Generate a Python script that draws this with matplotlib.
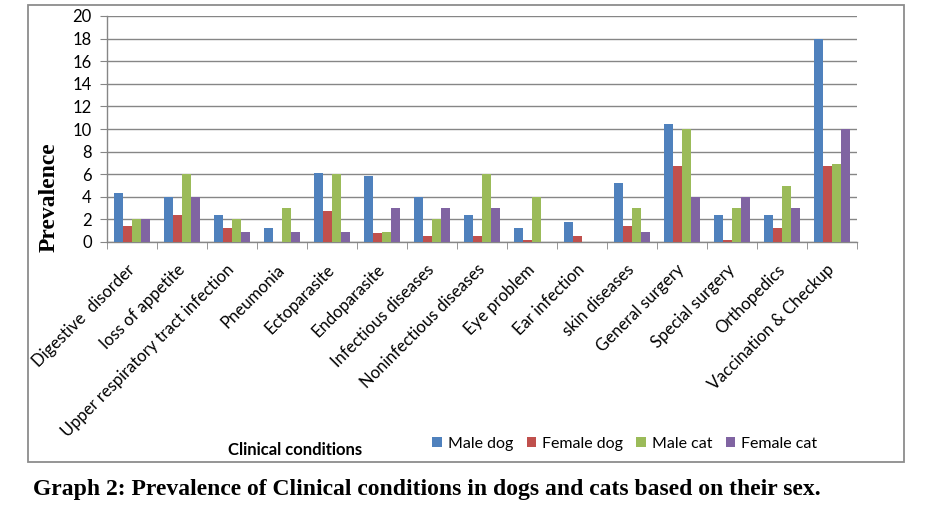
import matplotlib
matplotlib.use("Agg")
import matplotlib.pyplot as plt
import numpy as np
from matplotlib.patches import Rectangle

categories = ["Digestive  disorder", "loss of appetite", "Upper respiratory tract infection",
              "Pneumonia", "Ectoparasite", "Endoparasite", "Infectious diseases",
              "Noninfectious diseases", "Eye problem", "Ear infection", "skin diseases",
              "General surgery", "Special surgery", "Orthopedics", "Vaccination & Checkup"]
male_dog   = [4.3, 4.0, 2.4, 1.2, 6.15, 5.8, 4.0, 2.4, 1.2, 1.8, 5.2, 10.45, 2.4, 2.4, 17.95]
female_dog = [1.45, 2.4, 1.2, 0.0, 2.7, 0.8, 0.55, 0.55, 0.2, 0.55, 1.45, 6.75, 0.2, 1.2, 6.75]
male_cat   = [2.0, 6.0, 2.0, 3.0, 6.0, 0.9, 2.0, 6.0, 4.0, 0.0, 3.0, 10.0, 3.0, 5.0, 6.9]
female_cat = [2.0, 4.0, 0.9, 0.9, 0.9, 3.0, 3.0, 3.0, 0.0, 0.0, 0.9, 4.0, 4.0, 3.0, 10.0]
series_names = ["Male dog", "Female dog", "Male cat", "Female cat"]
colors = ["#4F81BD", "#C0504D", "#9BBB59", "#8064A2"]
yticks = [0, 2, 4, 6, 8, 10, 12, 14, 16, 18, 20]

sans = ["Lato", "DejaVu Sans"]
serif = ["Liberation Serif", "DejaVu Serif"]

fig = plt.figure(figsize=(9.4, 5.17), dpi=100)
fig.patch.set_facecolor("white")

# outer chart border
fig.patches.append(Rectangle((28/940, 1-462/517), (904-28)/940, (462-5)/517,
                             transform=fig.transFigure, fill=False,
                             edgecolor="#8c8c8c", linewidth=1.3))

ax = fig.add_axes([107/940, 1-242/517, 750/940, (242-16)/517])
x = np.arange(len(categories))
w = 0.18
data = [male_dog, female_dog, male_cat, female_cat]
for i, (vals, c, name) in enumerate(zip(data, colors, series_names)):
    ax.bar(x + (i - 1.5) * w, vals, width=w, color=c, label=name, zorder=3)

ax.set_xlim(-0.5, len(categories) - 0.5)
ax.set_ylim(0, 20)
ax.set_yticks(yticks)
ax.set_yticklabels([str(t) for t in yticks], fontfamily=sans, fontsize=12)
ax.yaxis.grid(True, color="#868686", linewidth=1.0, zorder=0)
ax.set_axisbelow(True)
for s in ["top", "right"]:
    ax.spines[s].set_visible(False)
for s in ["left", "bottom"]:
    ax.spines[s].set_color("#868686")
    ax.spines[s].set_linewidth(1.0)
ax.tick_params(axis="y", length=5, color="#868686", pad=6)

ax.set_xticks(x)
ax.set_xticklabels(categories, rotation=45, ha="right", va="center",
                   rotation_mode="anchor", fontfamily=sans, fontsize=12)
ax.set_xticks(np.arange(-0.5, len(categories)), minor=True)
ax.tick_params(axis="x", which="major", length=0, pad=18)
ax.tick_params(axis="x", which="minor", length=5, color="#868686")

fig.text(49/940, 1-197/517, "Prevalence", rotation=90, ha="center", va="center",
         fontfamily=serif, fontweight="bold", fontsize=17)
fig.text(295/940, 1-450/517, "Clinical conditions", ha="center", va="center",
         fontfamily=sans, fontweight="bold", fontsize=12)

fig.legend(loc="center", bbox_to_anchor=(625/940, 1-444/517), ncol=4, frameon=False,
           prop={"family": sans, "size": 11.5}, handlelength=0.6, handleheight=0.6,
           handletextpad=0.4, columnspacing=0.8, borderpad=0)

fig.text(33/940, 1-489/517,
         "Graph 2: Prevalence of Clinical conditions in dogs and cats based on their sex.",
         ha="left", va="center", fontfamily=serif, fontweight="bold", fontsize=17)

fig.savefig("out.png", dpi=100)
